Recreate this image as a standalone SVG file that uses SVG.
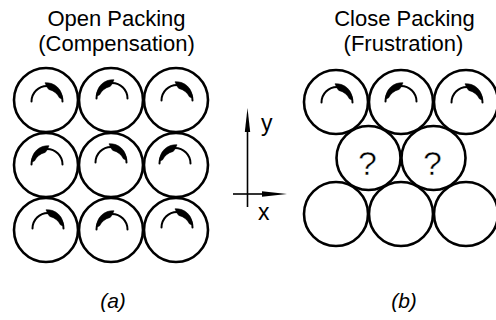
<svg xmlns="http://www.w3.org/2000/svg" xmlns:xlink="http://www.w3.org/1999/xlink" width="496" height="320" viewBox="0 0 496 320">
  <style>
    .ball { fill: #fff; stroke: #000; stroke-width: 2.6; }
    .spin { fill: none; stroke: #000; stroke-width: 2; stroke-linecap: round; }
    .head { fill: #000; stroke: #000; stroke-width: 0.6; stroke-linejoin: round; }
    .title { font-family: "Liberation Sans", Arial, sans-serif; font-size: 22px; text-anchor: middle; fill: #000; }
    .cap { font-family: "Liberation Sans", Arial, sans-serif; font-size: 21px; font-style: italic; text-anchor: middle; fill: #000; }
    .axis { font-family: "Liberation Sans", Arial, sans-serif; font-size: 23px; fill: #000; }
    .q { font-family: "Liberation Sans", Arial, sans-serif; font-size: 34px; text-anchor: middle; fill: #000; stroke: #fff; stroke-width: 0.5; }
    .ax { stroke: #000; stroke-width: 1.6; fill: none; }
  </style>
  <defs>
    <!-- spin arrow: arc over the top, barbed head near 12 o'clock thickening to the right -->
    <g id="spinR">
      <path class="spin" d="M -15.5 1.5 A 15.5 15.5 0 0 1 15.5 1.5"/>
      <path class="head" d="M -2 -17.2 A 16 16 0 0 1 15.4 -1 L 12.6 -2 Q 9 -9 1.8 -10.6 L 0.2 -12.6 Z"/>
    </g>
    <!-- mirrored spin arrow: head on the left side -->
    <g id="spinL">
      <use xlink:href="#spinR" transform="scale(-1,1)"/>
    </g>
  </defs>

  <!-- titles -->
  <text class="title" x="116.5" y="26">Open Packing</text>
  <text class="title" x="116.5" y="51">(Compensation)</text>
  <text class="title" x="404.5" y="26">Close Packing</text>
  <text class="title" x="403.5" y="51">(Frustration)</text>

  <!-- (a) open square packing -->
  <g id="a11"><circle class="ball" cx="46" cy="100" r="32"/><use xlink:href="#spinR" x="47" y="100"/></g>
  <g id="a12"><circle class="ball" cx="111" cy="100" r="32"/><use xlink:href="#spinL" x="112" y="97"/></g>
  <g id="a13"><circle class="ball" cx="176" cy="100" r="32"/><use xlink:href="#spinR" x="177" y="99"/></g>
  <g id="a21"><circle class="ball" cx="46" cy="165" r="32"/><use xlink:href="#spinL" x="47" y="163"/></g>
  <g id="a22"><circle class="ball" cx="111" cy="165" r="32"/><use xlink:href="#spinR" x="111" y="161"/></g>
  <g id="a23"><circle class="ball" cx="176" cy="165" r="32"/><use xlink:href="#spinL" x="175" y="162"/></g>
  <g id="a31"><circle class="ball" cx="46" cy="230" r="32"/><use xlink:href="#spinR" x="48" y="227"/></g>
  <g id="a32"><circle class="ball" cx="111" cy="230" r="32"/><use xlink:href="#spinL" x="112" y="228"/></g>
  <g id="a33"><circle class="ball" cx="176" cy="230" r="32"/><use xlink:href="#spinR" x="177" y="226"/></g>

  <!-- (b) close hexagonal packing -->
  <g id="b11"><circle class="ball" cx="336" cy="102" r="32"/><use xlink:href="#spinR" x="337" y="101"/></g>
  <g id="b12"><circle class="ball" cx="401" cy="102" r="32"/><use xlink:href="#spinL" x="401" y="100"/></g>
  <g id="b13"><circle class="ball" cx="466" cy="102" r="32"/><use xlink:href="#spinR" x="467" y="101"/></g>
  <g id="b21"><circle class="ball" cx="368.5" cy="158" r="32"/><text class="q" x="367.5" y="175">?</text></g>
  <g id="b22"><circle class="ball" cx="433.5" cy="158" r="32"/><text class="q" x="432.5" y="175">?</text></g>
  <g id="b31"><circle class="ball" cx="336" cy="214" r="32"/></g>
  <g id="b32"><circle class="ball" cx="401" cy="214" r="32"/></g>
  <g id="b33"><circle class="ball" cx="466" cy="214" r="32"/></g>

  <!-- coordinate axes -->
  <g id="axes">
    <line class="ax" x1="247.5" y1="207" x2="247.5" y2="128"/>
    <polygon points="247.5,108 244.8,132 250.2,132" fill="#000"/>
    <line class="ax" x1="233" y1="194" x2="265" y2="194"/>
    <polygon points="287,194 262,191.2 262,196.8" fill="#000"/>
    <text class="axis" x="261" y="131">y</text>
    <text class="axis" x="258" y="220">x</text>
  </g>

  <!-- captions -->
  <text class="cap" x="113" y="308">(a)</text>
  <text class="cap" x="404" y="308">(b)</text>
</svg>
